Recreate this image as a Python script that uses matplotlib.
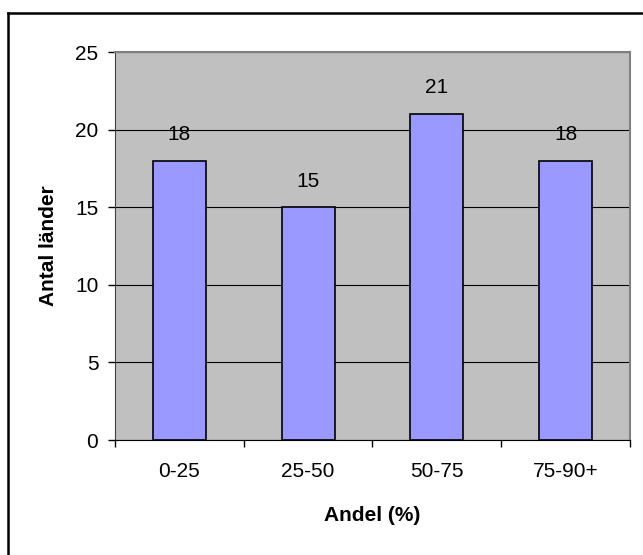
import matplotlib.pyplot as plt
from matplotlib.lines import Line2D

plt.rcParams['font.family'] = ['Liberation Sans', 'DejaVu Sans']

kategorier = ['0-25', '25-50', '50-75', '75-90+']
antal = [18, 15, 21, 18]
yticks = [0, 5, 10, 15, 20, 25]

W, H = 643, 555
fs = 15
fig = plt.figure(figsize=(W / 100, H / 100), dpi=100)

# ramen syns bara upptill och till vänster (bilden är beskuren)
kant_x, kant_y = 7.5 / W, 1 - 12.5 / H
fig.lines.append(Line2D([kant_x, 1], [kant_y, kant_y], transform=fig.transFigure,
                        color='black', linewidth=1.8))
fig.lines.append(Line2D([kant_x, kant_x], [0, kant_y], transform=fig.transFigure,
                        color='black', linewidth=1.8))

ax = fig.add_axes([115 / W, 1 - 440 / H, 515 / W, 388 / H])
ax.set_facecolor('#C0C0C0')
ax.set_axisbelow(True)

x = range(len(kategorier))
staplar = ax.bar(x, antal, width=0.41, color='#9999FF', edgecolor='black', linewidth=1.2)
for rect, v in zip(staplar, antal):
    ax.annotate(str(v), (rect.get_x() + rect.get_width() / 2, v),
                xytext=(0, 12), textcoords='offset points',
                ha='center', va='bottom', fontsize=fs)

ax.set_xlim(-0.5, len(kategorier) - 0.5)
ax.set_ylim(0, 25)
ax.set_yticks(yticks)
ax.yaxis.grid(True, color='black', linewidth=0.8)
ax.set_xticks([i + 0.5 for i in range(-1, len(kategorier))], minor=False)
ax.set_xticklabels([])
ax.set_xticks(list(x), minor=True)
ax.set_xticklabels(kategorier, minor=True, fontsize=fs)
ax.tick_params(axis='x', which='major', length=5, width=1, direction='out')
ax.tick_params(axis='x', which='minor', length=0, pad=16)
ax.tick_params(axis='y', length=5, width=1, direction='out', labelsize=fs, pad=7)

for s in ['top', 'right']:
    ax.spines[s].set_color('#808080')
    ax.spines[s].set_linewidth(1.5)
ax.spines['left'].set_color('#404040')
ax.spines['bottom'].set_color('black')

ax.set_ylabel('Antal länder', fontsize=fs, fontweight='bold', labelpad=12)
ax.set_xlabel('Andel (%)', fontsize=fs, fontweight='bold', labelpad=18)

fig.savefig('out.png', dpi=100)
